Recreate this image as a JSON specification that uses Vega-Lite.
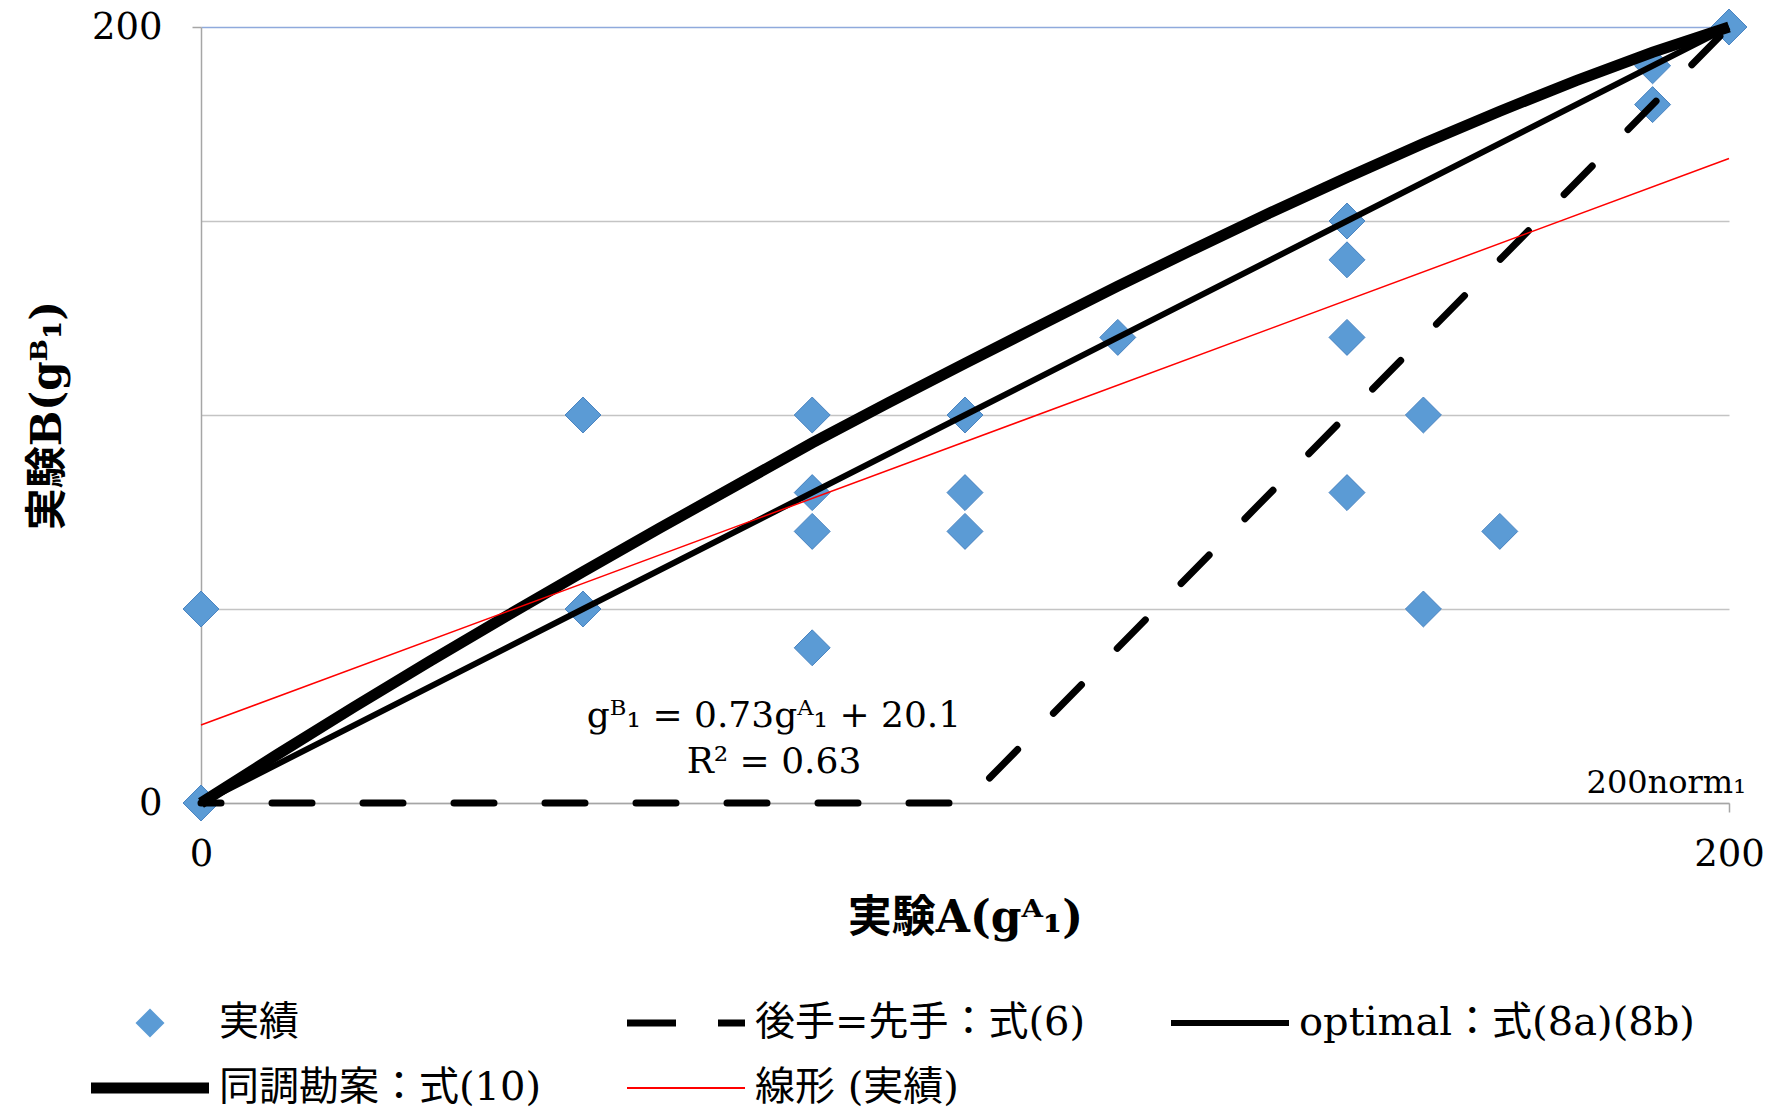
{
  "$schema": "https://vega.github.io/schema/vega-lite/v6.json",
  "width": 1528,
  "height": 776,
  "autosize": {"type": "none"},
  "padding": {"left": 201, "top": 27, "right": 43, "bottom": 305},
  "background": "white",
  "config": {
    "view": {"stroke": null},
    "font": "DejaVu Serif, Noto Sans CJK JP",
    "text": {"font": "DejaVu Serif, Noto Sans CJK JP"}
  },
  "datasets": {
    "pts": [
      {"x": 0, "y": 0, "s": "実績"},
      {"x": 0, "y": 50, "s": "実績"},
      {"x": 50, "y": 100, "s": "実績"},
      {"x": 50, "y": 50, "s": "実績"},
      {"x": 80, "y": 100, "s": "実績"},
      {"x": 80, "y": 80, "s": "実績"},
      {"x": 80, "y": 70, "s": "実績"},
      {"x": 80, "y": 40, "s": "実績"},
      {"x": 100, "y": 100, "s": "実績"},
      {"x": 100, "y": 100, "s": "実績"},
      {"x": 100, "y": 80, "s": "実績"},
      {"x": 100, "y": 70, "s": "実績"},
      {"x": 120, "y": 120, "s": "実績"},
      {"x": 150, "y": 150, "s": "実績"},
      {"x": 150, "y": 140, "s": "実績"},
      {"x": 150, "y": 120, "s": "実績"},
      {"x": 150, "y": 80, "s": "実績"},
      {"x": 160, "y": 100, "s": "実績"},
      {"x": 160, "y": 50, "s": "実績"},
      {"x": 170, "y": 70, "s": "実績"},
      {"x": 190, "y": 190, "s": "実績"},
      {"x": 190, "y": 180, "s": "実績"},
      {"x": 200, "y": 200, "s": "実績"}
    ],
    "lines": [
      {"x": 0, "y": 0, "s": "同調勘案：式(10)"},
      {"x": 10, "y": 12.5, "s": "同調勘案：式(10)"},
      {"x": 20, "y": 24.7, "s": "同調勘案：式(10)"},
      {"x": 30, "y": 36.6, "s": "同調勘案：式(10)"},
      {"x": 40, "y": 48.2, "s": "同調勘案：式(10)"},
      {"x": 50, "y": 59.6, "s": "同調勘案：式(10)"},
      {"x": 60, "y": 70.8, "s": "同調勘案：式(10)"},
      {"x": 70, "y": 81.8, "s": "同調勘案：式(10)"},
      {"x": 80, "y": 92.8, "s": "同調勘案：式(10)"},
      {"x": 90, "y": 103.2, "s": "同調勘案：式(10)"},
      {"x": 100, "y": 113.3, "s": "同調勘案：式(10)"},
      {"x": 110, "y": 123.3, "s": "同調勘案：式(10)"},
      {"x": 120, "y": 133.2, "s": "同調勘案：式(10)"},
      {"x": 130, "y": 142.8, "s": "同調勘案：式(10)"},
      {"x": 140, "y": 152.2, "s": "同調勘案：式(10)"},
      {"x": 150, "y": 161.2, "s": "同調勘案：式(10)"},
      {"x": 160, "y": 170.0, "s": "同調勘案：式(10)"},
      {"x": 170, "y": 178.3, "s": "同調勘案：式(10)"},
      {"x": 180, "y": 186.2, "s": "同調勘案：式(10)"},
      {"x": 190, "y": 193.5, "s": "同調勘案：式(10)"},
      {"x": 200, "y": 200, "s": "同調勘案：式(10)"},
      {"x": 0, "y": 0, "s": "optimal：式(8a)(8b)"},
      {"x": 50, "y": 50, "s": "optimal：式(8a)(8b)"},
      {"x": 100, "y": 100, "s": "optimal：式(8a)(8b)"},
      {"x": 150, "y": 150, "s": "optimal：式(8a)(8b)"},
      {"x": 200, "y": 200, "s": "optimal：式(8a)(8b)"},
      {"x": 0, "y": 0, "s": "後手=先手：式(6)"},
      {"x": 100, "y": 0, "s": "後手=先手：式(6)"},
      {"x": 200, "y": 200, "s": "後手=先手：式(6)"},
      {"x": 0, "y": 20.1, "s": "線形 (実績)"},
      {"x": 200, "y": 166.1, "s": "線形 (実績)"}
    ],
    "notes": [
      {"x": 75, "y": 22.3, "t": "gᴮ₁ = 0.73gᴬ₁ + 20.1"},
      {"x": 75, "y": 10.6, "t": "R² = 0.63"}
    ],
    "corner": [
      {"x": 200, "y": 5.2, "t": "200norm₁"}
    ]
  },
  "encoding": {
    "x": {
      "field": "x", "type": "quantitative",
      "scale": {"domain": [0, 200], "nice": false, "zero": true},
      "axis": {
        "values": [0, 200], "title": "実験A(gᴬ₁)", "grid": false,
        "domainColor": "#a6a6a6", "domainWidth": 1.5,
        "tickColor": "#a6a6a6", "tickSize": 9, "tickWidth": 1.5,
        "labelFontSize": 37, "labelPadding": 24, "labelColor": "black", "labelFlush": false,
        "labelFont": "DejaVu Serif",
        "titleFontSize": 44, "titleFontWeight": "bold", "titlePadding": 24, "titleColor": "black",
        "titleFont": "DejaVu Serif, Noto Sans CJK JP"
      }
    },
    "y": {
      "field": "y", "type": "quantitative",
      "scale": {"domain": [0, 200], "nice": false, "zero": true},
      "axis": {
        "values": [0, 50, 100, 150, 200], "title": "実験B(gᴮ₁)", "grid": true,
        "gridColor": {"condition": {"test": "datum.value === 200", "value": "#8faadc"}, "value": "#c4c4c4"},
        "gridWidth": 1.5,
        "domainColor": "#a6a6a6", "domainWidth": 1.5,
        "tickColor": "#a6a6a6", "tickSize": 9, "tickWidth": 1.5,
        "tickOpacity": {"condition": {"test": "datum.value === 200", "value": 1}, "value": 0},
        "labelExpr": "datum.value === 0 || datum.value === 200 ? datum.label : ''",
        "labelFontSize": 37, "labelPadding": 30, "labelColor": "black", "labelFlush": false,
        "labelFont": "DejaVu Serif",
        "titleFontSize": 42, "titleFontWeight": "bold", "titlePadding": 22, "titleColor": "black",
        "titleFont": "DejaVu Serif, Noto Sans CJK JP"
      }
    }
  },
  "layer": [
    {
      "data": {"name": "pts"},
      "mark": {"type": "point", "filled": true, "opacity": 1, "size": 2460, "stroke": "#4a84c1", "strokeWidth": 1},
      "encoding": {
        "color": {
          "field": "s", "type": "nominal",
          "scale": {
            "domain": ["実績", "後手=先手：式(6)", "optimal：式(8a)(8b)", "同調勘案：式(10)", "線形 (実績)"],
            "range": ["#5b9bd5", "#000000", "#000000", "#000000", "#ff0000"]
          },
          "legend": {
            "title": null, "orient": "none", "direction": "horizontal", "legendX": -110, "legendY": 976,
            "columns": 3, "columnPadding": 85, "rowPadding": 25, "padding": 0,
            "labelFontSize": 40, "labelFont": "DejaVu Serif, Noto Sans CJK JP", "labelLimit": 700,
            "labelOffset": 49, "labelColor": "black", "symbolSize": 1600, "symbolOffset": 39,
            "symbolStrokeWidth": 0, "symbolOpacity": 1
          }
        },
        "shape": {
          "field": "s", "type": "nominal",
          "scale": {
            "domain": ["実績", "後手=先手：式(6)", "optimal：式(8a)(8b)", "同調勘案：式(10)", "線形 (実績)"],
            "range": [
              "M-0.725,0L0,-0.725L0.725,0L0,0.725Z",
              "M-2.95,-0.175H-0.5V0.175H-2.95Z M1.6,-0.175H2.95V0.175H1.6Z",
              "M-2.95,-0.15H2.95V0.15H-2.95Z",
              "M-2.95,-0.275H2.95V0.275H-2.95Z",
              "M-2.95,-0.05H2.95V0.05H-2.95Z"
            ]
          },
          "legend": {"title": null}
        }
      }
    },
    {
      "data": {"name": "lines"},
      "transform": [{"filter": "datum.s === '同調勘案：式(10)'"}],
      "mark": {"type": "line", "strokeWidth": 11, "strokeCap": "butt", "strokeJoin": "miter"},
      "encoding": {"color": {"field": "s", "type": "nominal", "legend": {"title": null}}}
    },
    {
      "data": {"name": "lines"},
      "transform": [{"filter": "datum.s === 'optimal：式(8a)(8b)'"}],
      "mark": {"type": "line", "strokeWidth": 6, "strokeCap": "butt", "strokeJoin": "miter"},
      "encoding": {"color": {"field": "s", "type": "nominal", "legend": {"title": null}}}
    },
    {
      "data": {"name": "lines"},
      "transform": [{"filter": "datum.s === '後手=先手：式(6)'"}],
      "mark": {"type": "line", "strokeWidth": 7, "strokeCap": "round", "strokeJoin": "round", "strokeDash": [40, 51], "strokeDashOffset": 20},
      "encoding": {"color": {"field": "s", "type": "nominal", "legend": {"title": null}}}
    },
    {
      "data": {"name": "lines"},
      "transform": [{"filter": "datum.s === '線形 (実績)'"}],
      "mark": {"type": "line", "strokeWidth": 1.5, "strokeCap": "butt"},
      "encoding": {"color": {"field": "s", "type": "nominal", "legend": {"title": null}}}
    },
    {
      "data": {"name": "notes"},
      "mark": {"type": "text", "fontSize": 36, "font": "DejaVu Serif", "color": "black", "align": "center", "baseline": "middle"},
      "encoding": {"text": {"field": "t"}}
    },
    {
      "data": {"name": "corner"},
      "mark": {"type": "text", "fontSize": 32, "font": "DejaVu Serif", "color": "black", "align": "right", "baseline": "middle", "dx": 17},
      "encoding": {"text": {"field": "t"}}
    }
  ]
}
